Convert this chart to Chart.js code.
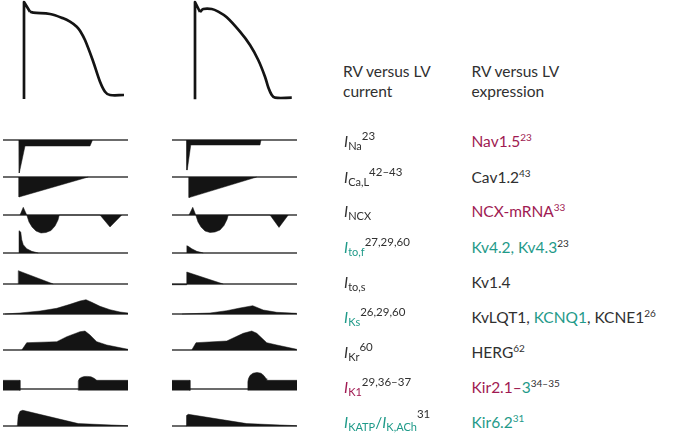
<!DOCTYPE html>
<html>
<head>
<meta charset="utf-8">
<script src="https://cdn.jsdelivr.net/npm/chart.js@4.4.1/dist/chart.umd.min.js"></script>
<style>
  body { margin: 0; background: #fff; }
  #fig { position: relative; width: 680px; height: 438px; overflow: hidden; font-family: Lato, "Open Sans", sans-serif; }
  #fig canvas { position: absolute; }
  .txt { position: absolute; font-size: 15.5px; line-height: 15px; color: #303030; white-space: nowrap; }
  .head { line-height: 20px; }
  .txt sub, .txt sup { vertical-align: baseline; position: relative; }
  .cur sub { font-size: 11px; top: 3px; }
  .cur sup { font-size: 11.5px; top: -7px; color: #303030; }
  .cur sup.hi { top: -10px; }
  .exp sup { font-size: 10px; top: -6px; }
  .mg { color: #a01a52; }
  .tl { color: #1f9a89; }
</style>
</head>
<body>
<div id="fig"></div>
<script>
// time in ms (0-500 per panel), AP in mV, currents in arbitrary units (+ outward, - inward)
const timeRange = [0, 500];
const apRange = [-92, 38];
const currentRange = [-40, 40];

// action potentials [t, mV]
const rvAP = [[84,-90.7],[84,35.4],[108,22.8],[121,21.5],[188,19.8],[241,14.2],[268,9.8],[295,3.3],[308,-1.9],[328,-14],[361,-42.2],[388,-68.2],[408,-81.2],[428,-85.5],[484,-85.5]];
const lvAP = [[92,-91.1],[92,35.4],[112,22.4],[125,26.3],[159,26.3],[185,22.8],[219,15.5],[272,-3.2],[312,-20.5],[345,-40],[372,-61.7],[385,-75.5],[399,-85.5],[412,-89],[479,-89]];

// currents [t, amplitude], left panel = RV, right panel = LV
const rvINa = [[64,0],[64,-33],[66,-33],[88,-6],[348,-6],[358,0]];
const lvINa = [[59,0],[59,-30],[61,-30],[75,-5],[352,-5],[356,0]];
const rvICaL = [[64,0],[64,-20],[341,0]];
const lvICaL = [[68,0],[68,-20.6],[339,0]];
const rvINCX = [[68,0],[81,7.7],[95,0],[104,-7],[116,-12],[132,-16],[152,-18],[172,-17.5],[192,-15.5],[208,-11],[220,-5],[225,0],[388,0],[428,-12],[475,0]];
const lvINCX = [[68,0],[83,7.7],[95,0],[104,-7],[116,-12],[132,-16],[152,-17.5],[172,-17],[192,-15],[208,-10.5],[220,-4.5],[225,0],[392,0],[428,-12.4],[465,0]];
const rvItoF = [[64,0],[64,22.3],[71,21],[75,13.3],[81,8.3],[95,4.3],[115,1.7],[141,0]];
const lvItoF = [[59,0],[59,7.3],[65,6.7],[79,4.3],[99,1.7],[125,0]];
const rvItoS = [[61,0],[61,13.3],[201,0]];
const lvItoS = [[0,-0.8],[59,-0.8],[59,12],[205,0]];
const rvIKs = [[8,0],[68,1],[148,3],[215,5.7],[268,9.7],[308,13],[332,14.3],[355,11.7],[388,7.7],[428,4.3],[468,2],[500,1]];
const lvIKs = [[40,0],[152,1],[219,3.3],[272,6],[323,8.3],[365,4],[419,1.7],[499,0.7]];
const rvIKr = [[75,0],[95,7.3],[215,8.3],[255,13.3],[308,18.3],[328,19],[348,15],[375,8.3],[415,5],[500,0.7]];
const lvIKr = [[79,0],[96,7.3],[219,9],[285,16.7],[319,19],[339,16.7],[379,7.3],[419,5],[499,0.7]];
const rvIK1a = [[0,8.7],[68,8.7],[68,-1.5]];
const rvIK1b = [[301,-1.5],[301,8],[306,10.5],[315,11.8],[325,12.5],[338,12.6],[352,12.2],[364,10.8],[375,8.7],[500,8.7]];
const lvIK1a = [[0,8.7],[72,8.7],[72,-1.5]];
const lvIK1b = [[303,-1.5],[303,7],[306,10.5],[312,13.5],[324,15.8],[340,16.6],[356,15.8],[368,13.3],[376,10.5],[379,8.7],[500,8.7]];
const rvIKATP = [[57,0],[61,10.7],[68,14.7],[79,15.7],[301,2.4],[500,0.3]];
const lvIKATP = [[56,0],[58,10.5],[65,11.7],[299,2.4],[499,0.3]];

const currentLabels = [
  '<i>I</i><sub>Na</sub><sup>23</sup>',
  '<i>I</i><sub>Ca,L</sub><sup>42–43</sup>',
  '<i>I</i><sub>NCX</sub>',
  '<span class="tl"><i>I</i><sub>to,f</sub></span><sup>27,29,60</sup>',
  '<i>I</i><sub>to,s</sub>',
  '<span class="tl"><i>I</i><sub>Ks</sub></span><sup>26,29,60</sup>',
  '<i>I</i><sub>Kr</sub><sup>60</sup>',
  '<span class="mg"><i>I</i><sub>K1</sub></span><sup>29,36–37</sup>',
  '<span class="tl"><i>I</i><sub>KATP</sub>/<i>I</i><sub>K,ACh</sub></span><sup class="hi">31</sup>'
];
const expressionLabels = [
  '<span class="mg">Nav1.5<sup>23</sup></span>',
  'Cav1.2<sup>43</sup>',
  '<span class="mg">NCX-mRNA<sup>33</sup></span>',
  '<span class="tl">Kv4.2, Kv4.3</span><sup>23</sup>',
  'Kv1.4',
  'KvLQT1, <span class="tl">KCNQ1</span>, KCNE1<sup>26</sup>',
  'HERG<sup>62</sup>',
  '<span class="mg">Kir2.1–</span><span class="tl">3</span><sup>34–35</sup>',
  '<span class="tl">Kir6.2<sup>31</sup></span>'
];

// layout
const fig = document.getElementById('fig');
const colLeft = [3, 172];
const colWidth = 125;
const rowBaseline = [140, 177, 215, 253, 284, 314, 350, 389, 426];
const textBaseline = [147.5, 183.3, 217.3, 253.3, 288.3, 323.3, 358.3, 393.3, 428.3];
const ink = '#141414';

const toXY = pts => pts.map(([x, y]) => ({ x, y }));

function area(pts, base) {
  return {
    data: toXY(pts),
    fill: base === undefined ? 'origin' : { value: base },
    backgroundColor: ink,
    borderColor: ink,
    borderWidth: 0.5,
    pointRadius: 0,
    tension: 0
  };
}

function trace(pts, width, tension, color) {
  return {
    data: toXY(pts),
    fill: false,
    borderColor: color || ink,
    borderWidth: width,
    pointRadius: 0,
    tension: tension,
    borderJoinStyle: 'round',
    borderCapStyle: 'butt'
  };
}

function addChart(left, top, height, yRange, datasets) {
  const c = document.createElement('canvas');
  c.width = colWidth;
  c.height = height;
  c.style.left = left + 'px';
  c.style.top = top + 'px';
  fig.appendChild(c);
  return new Chart(c.getContext('2d'), {
    type: 'line',
    data: { datasets: datasets },
    options: {
      responsive: false,
      animation: false,
      devicePixelRatio: 1,
      events: [],
      layout: { padding: 0 },
      scales: {
        x: { type: 'linear', min: timeRange[0], max: timeRange[1], display: false },
        y: { type: 'linear', min: yRange[0], max: yRange[1], display: false }
      },
      plugins: { legend: { display: false }, tooltip: { enabled: false } }
    }
  });
}

const baseline = timeRange.map(t => [t, 0]);

// action potentials
addChart(colLeft[0], 0, 100, apRange, [trace(rvAP.slice(0, 3), 2.7, 0), trace(rvAP.slice(2), 2.7, 0.35)]);
addChart(colLeft[1], 0, 100, apRange, [trace(lvAP.slice(0, 3), 2.7, 0), trace(lvAP.slice(2), 2.7, 0.35)]);

const rows = [
  [[area(rvINa)], [area(lvINa)]],
  [[area(rvICaL)], [area(lvICaL)]],
  [[area(rvINCX)], [area(lvINCX)]],
  [[area(rvItoF)], [area(lvItoF)]],
  [[area(rvItoS)], [area(lvItoS)]],
  [[area(rvIKs)], [area(lvIKs)]],
  [[area(rvIKr)], [area(lvIKr)]],
  [[area(rvIK1a, -1.5), area(rvIK1b, -1.5)], [area(lvIK1a, -1.5), area(lvIK1b, -1.5)]],
  [[area(rvIKATP)], [area(lvIKATP)]]
];

rows.forEach((r, i) => {
  const top = rowBaseline[i] - 40;
  r.forEach((sets, col) => {
    addChart(colLeft[col], top, 80, currentRange, sets.concat([trace(baseline, 1.3, 0, '#3a3a3a')]));
  });
});

// text
function addText(html, left, baselineY, cls) {
  const d = document.createElement('div');
  d.className = 'txt ' + cls;
  d.innerHTML = html;
  d.style.left = left + 'px';
  d.style.top = (baselineY - 13.5) + 'px';
  fig.appendChild(d);
}
addText('RV versus LV<br>current', 343, 77.3 - 2.5, 'head');
addText('RV versus LV<br>expression', 471.5, 77.3 - 2.5, 'head');
currentLabels.forEach((h, i) => addText(h, 344, textBaseline[i], 'cur'));
expressionLabels.forEach((h, i) => addText(h, 471.5, textBaseline[i], 'exp'));
</script>
</body>
</html>
